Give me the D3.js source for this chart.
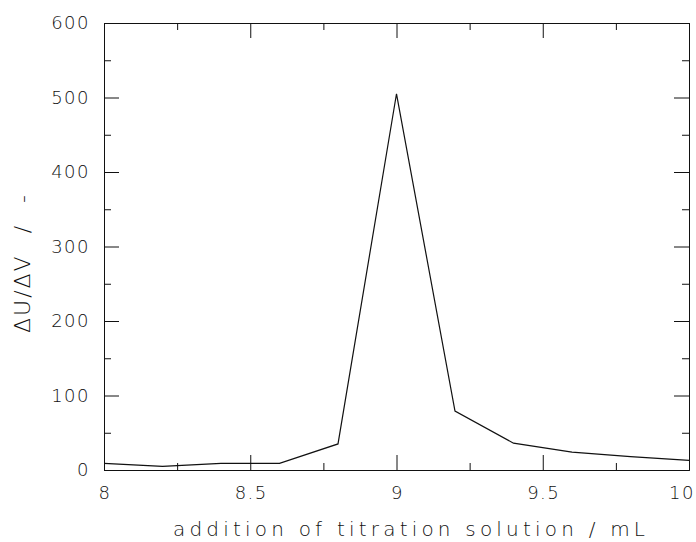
<!DOCTYPE html>
<html>
<head>
<meta charset="utf-8">
<script src="https://cdn.jsdelivr.net/npm/d3@7"></script>
<style>
  body { margin: 0; background: #fff; }
  text { font-family: "DejaVu Sans", sans-serif; font-weight: 200; fill: #111; }
</style>
</head>
<body>
<div class="graph"></div>
<script>
let volume = [8, 8.2, 8.4, 8.6, 8.8, 9, 9.2, 9.4, 9.6, 9.8, 10];
let dUdV = [9, 5, 9, 9, 35, 505, 79, 36, 24, 18, 13];
let xTicks = [8, 8.5, 9, 9.5, 10];
let yTicks = [0, 100, 200, 300, 400, 500, 600];

let w = 696;
let h = 542;
let plotLeft = 104, plotRight = 689, plotTop = 23, plotBottom = 470;

let svg = d3
  .select(".graph")
  .append("svg")
  .attr("width", w)
  .attr("height", h);

let xScale = d3.scaleLinear().domain([8, 10]).range([plotLeft, plotRight]);
let yScale = d3.scaleLinear().domain([0, 600]).range([plotBottom, plotTop]);

let xMinor = [8.25, 8.75, 9.25, 9.75];
let yMinor = [50, 150, 250, 350, 450, 550];

// frame with inward ticks on all sides
function addAxis(axis, tx, ty, major, minor) {
  svg.append("g").attr("transform", "translate(" + tx + "," + ty + ")")
    .call(axis.tickValues(major).tickSizeInner(-15).tickSizeOuter(0).tickFormat(""));
  svg.append("g").attr("transform", "translate(" + tx + "," + ty + ")")
    .call(axis.tickValues(minor).tickSizeInner(-7).tickSizeOuter(0).tickFormat(""));
}
addAxis(d3.axisBottom(xScale), 0, plotBottom, xTicks, xMinor);
addAxis(d3.axisTop(xScale), 0, plotTop, xTicks, xMinor);
addAxis(d3.axisLeft(yScale), plotLeft, 0, yTicks, yMinor);
addAxis(d3.axisRight(yScale), plotRight, 0, yTicks, yMinor);
svg.selectAll(".domain").attr("stroke", "#111");
svg.selectAll(".tick line").attr("stroke", "#111");

// tick labels
svg.selectAll(".xlab")
  .data(xTicks)
  .enter()
  .append("text")
  .attr("x", (d, i) => i == xTicks.length - 1 ? 695 : xScale(d) + 1)
  .attr("y", 499)
  .attr("text-anchor", (d, i) => i == xTicks.length - 1 ? "end" : "middle")
  .style("font-size", "18px")
  .style("letter-spacing", "1.5px")
  .text(d => d);
svg.selectAll(".ylab")
  .data(yTicks)
  .enter()
  .append("text")
  .attr("x", 90)
  .attr("y", d => yScale(d) + 6)
  .attr("text-anchor", "end")
  .style("font-size", "18px")
  .style("letter-spacing", "1.5px")
  .text(d => d);

// axis titles
svg.append("text")
  .attr("x", 173)
  .attr("y", 536)
  .attr("textLength", 472)
  .attr("lengthAdjust", "spacing")
  .style("font-size", "20px")
  .text("addition of titration solution / mL");
svg.append("text")
  .attr("transform", "translate(30,333) rotate(-90)")
  .style("font-size", "22px")
  .style("letter-spacing", "2px")
  .style("word-spacing", "12px")
  .text("ΔU/ΔV / -");

// data line
let line = d3.line()
  .x((d, i) => xScale(volume[i]))
  .y((d, i) => yScale(dUdV[i]));
svg.append("path")
  .datum(dUdV)
  .attr("d", line)
  .attr("fill", "none")
  .attr("stroke", "#111")
  .attr("stroke-width", 1.2);
</script>
</body>
</html>
